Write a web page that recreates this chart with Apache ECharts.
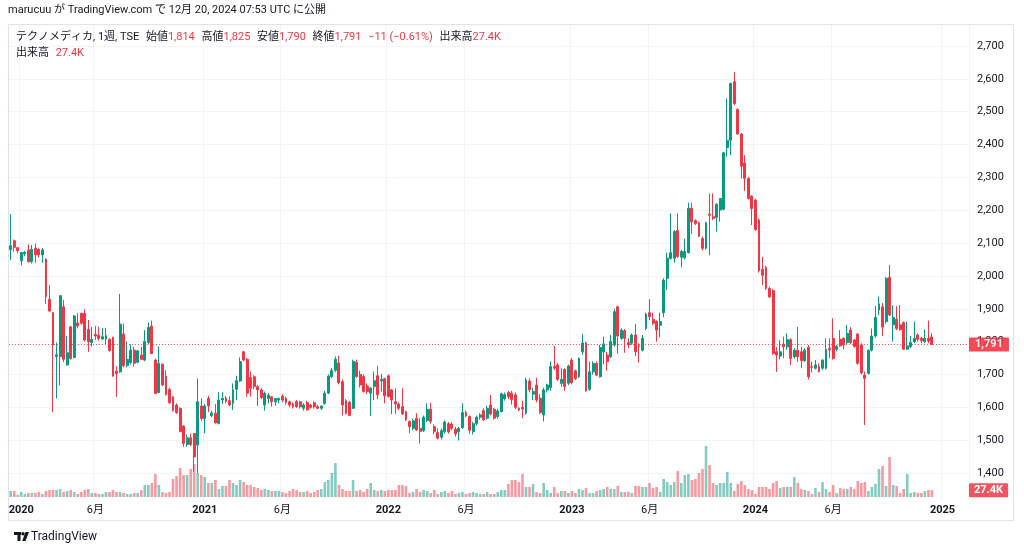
<!DOCTYPE html>
<html><head><meta charset="utf-8">
<script src="https://cdn.jsdelivr.net/npm/echarts@6/dist/echarts.min.js"></script>
<style>html,body{margin:0;padding:0;background:#fff}#c{width:1024px;height:553px}</style>
</head><body><div id="c"></div>
<script>
// ---- data (weekly candles, first week 2019-12-16) ----
const firstWeek = '2019-12-16';
const totalSlots = 272; // weeks on the time scale incl. empty future space
const priceTicks = [1400,1500,1600,1700,1800,1900,2000,2100,2200,2300,2400,2500,2600,2700];
const openP = [
2080,2107,2086,2046,2067,2079,2043,2084,2081,2064,
2051,1929,1888,1755,1754,1906,1729,1845,1752,1857,
1886,1886,1837,1797,1822,1819,1808,1808,1807,1813,
1710,1708,1823,1727,1736,1774,1737,1759,1744,1797,
1847,1744,1645,1731,1695,1654,1632,1607,1597,1543,
1487,1507,1520,1485,1604,1566,1627,1575,1582,1551,
1622,1628,1620,1612,1655,1680,1769,1746,1691,1693,
1663,1653,1607,1627,1632,1617,1622,1634,1627,1617,
1610,1617,1617,1597,1614,1607,1614,1602,1597,1612,
1643,1693,1713,1735,1678,1620,1615,1597,1737,1700,
1694,1665,1643,1663,1696,1680,1687,1696,1653,1617,
1610,1602,1587,1557,1536,1567,1536,1529,1560,1594,
1541,1523,1509,1526,1550,1549,1533,1526,1538,1584,
1572,1526,1550,1570,1590,1567,1607,1594,1572,1587,
1626,1645,1643,1638,1597,1600,1582,1680,1640,1668,
1628,1577,1653,1660,1724,1729,1673,1715,1673,1744,
1711,1693,1769,1796,1655,1708,1734,1693,1769,1759,
1754,1790,1906,1810,1833,1797,1795,1820,1787,1774,
1840,1888,1868,1861,1850,1888,1993,2053,2054,2138,
2057,2055,2071,2206,2168,2162,2114,2084,2188,2180,
2178,2201,2203,2391,2413,2591,2507,2432,2344,2297,
2243,2231,2170,2020,2026,1962,1955,1769,1756,1792,
1784,1806,1754,1774,1769,1742,1783,1724,1719,1724,
1719,1719,1780,1810,1777,1807,1810,1797,1835,1805,
1823,1790,1698,1703,1774,1817,1896,1906,1861,1996,
1851,1868,1851,1858,1777,1785,1800,1820,1810,1800,
1810,1814];
const highP = [
2188,2111,2088,2074,2076,2096,2094,2099,2083,2085,
2053,1972,1890,1797,1940,1927,1817,1847,1881,1886,
1888,1898,1866,1845,1847,1845,1842,1842,1810,1815,
1725,1945,1855,1800,1792,1784,1774,1784,1835,1858,
1864,1748,1785,1734,1713,1660,1634,1612,1600,1546,
1517,1520,1522,1688,1627,1610,1635,1590,1610,1646,
1646,1634,1633,1673,1696,1752,1772,1750,1709,1698,
1668,1658,1648,1643,1633,1628,1630,1640,1632,1620,
1615,1622,1620,1612,1620,1610,1618,1607,1605,1650,
1700,1720,1755,1757,1685,1625,1620,1745,1745,1712,
1700,1673,1662,1709,1726,1702,1690,1700,1656,1658,
1615,1658,1590,1560,1565,1582,1567,1575,1612,1614,
1548,1536,1535,1560,1555,1555,1540,1540,1612,1590,
1575,1556,1575,1582,1597,1605,1638,1598,1595,1645,
1645,1650,1650,1645,1600,1620,1690,1688,1660,1690,
1640,1660,1672,1740,1787,1735,1719,1719,1730,1750,
1715,1752,1823,1800,1739,1740,1740,1790,1815,1769,
1820,1900,1910,1840,1838,1810,1825,1854,1795,1820,
1888,1929,1888,1865,1888,1993,2071,2190,2140,2190,
2079,2114,2223,2223,2172,2165,2120,2165,2251,2251,
2221,2236,2378,2540,2588,2621,2510,2435,2368,2300,
2245,2235,2175,2058,2030,1968,1960,1784,1804,1815,
1825,1810,1780,1845,1785,1780,1790,1739,1744,1734,
1746,1810,1810,1871,1790,1835,1813,1851,1844,1808,
1825,1795,1709,1776,1840,1908,1937,1917,1996,2033,
1911,1908,1911,1861,1861,1817,1861,1825,1815,1837,
1864,1825];
const lowP = [
2048,2074,2069,2032,2060,2041,2038,2040,2056,2040,
1914,1891,1585,1627,1666,1738,1727,1745,1749,1840,
1852,1800,1769,1785,1805,1803,1805,1792,1769,1693,
1632,1705,1722,1722,1730,1724,1734,1744,1740,1792,
1762,1640,1643,1665,1636,1610,1587,1580,1524,1480,
1480,1482,1405,1400,1560,1521,1585,1570,1550,1548,
1610,1612,1603,1592,1622,1677,1740,1632,1632,1655,
1604,1625,1590,1612,1602,1605,1612,1615,1608,1600,
1596,1598,1596,1590,1590,1596,1596,1595,1592,1608,
1640,1690,1708,1670,1575,1578,1573,1595,1690,1660,
1645,1640,1574,1622,1625,1648,1612,1630,1579,1580,
1592,1577,1558,1521,1530,1528,1490,1525,1555,1550,
1518,1502,1502,1520,1520,1530,1511,1499,1534,1570,
1520,1517,1545,1562,1558,1563,1575,1563,1565,1585,
1620,1625,1608,1595,1588,1567,1578,1645,1622,1615,
1580,1557,1645,1650,1714,1680,1663,1650,1668,1670,
1683,1690,1760,1648,1650,1700,1695,1690,1731,1711,
1750,1785,1764,1805,1766,1780,1790,1756,1736,1770,
1835,1866,1850,1800,1813,1874,1957,2050,2040,2055,
2026,2050,2068,2128,2155,2118,2077,2080,2063,2170,
2135,2165,2200,2363,2368,2520,2430,2297,2259,2232,
2155,2137,2010,1972,1958,1933,1760,1708,1746,1749,
1775,1728,1748,1738,1719,1738,1685,1706,1715,1706,
1714,1715,1749,1745,1770,1785,1777,1793,1793,1782,
1730,1700,1546,1700,1770,1812,1880,1817,1855,1878,
1800,1835,1833,1775,1775,1780,1795,1800,1795,1795,
1795,1790];
const closeP = [
2092,2087,2077,2071,2072,2043,2081,2064,2064,2079,
1937,1893,1790,1760,1940,1746,1766,1749,1878,1848,
1856,1805,1800,1807,1817,1810,1815,1818,1773,1695,
1703,1853,1727,1746,1774,1734,1772,1746,1800,1843,
1764,1642,1734,1668,1639,1614,1590,1584,1526,1490,
1507,1487,1449,1617,1566,1604,1604,1583,1553,1622,
1627,1618,1607,1653,1681,1739,1744,1643,1658,1663,
1653,1630,1643,1637,1617,1627,1627,1622,1615,1607,
1602,1602,1602,1607,1592,1600,1602,1597,1604,1643,
1695,1712,1746,1675,1607,1582,1575,1740,1694,1668,
1648,1648,1658,1681,1638,1685,1635,1633,1622,1610,
1597,1580,1562,1541,1559,1531,1526,1570,1594,1557,
1526,1506,1529,1555,1525,1536,1519,1536,1584,1574,
1530,1550,1570,1577,1562,1597,1580,1567,1589,1641,
1638,1633,1623,1600,1592,1595,1683,1653,1648,1622,
1584,1653,1668,1724,1719,1685,1685,1663,1726,1675,
1688,1749,1796,1650,1708,1734,1698,1782,1793,1739,
1800,1891,1817,1835,1810,1790,1820,1769,1785,1810,
1884,1876,1856,1835,1861,1987,2054,2071,2135,2059,
2074,2074,2206,2165,2160,2121,2084,2162,2185,2175,
2218,2236,2375,2413,2586,2525,2432,2334,2297,2236,
2205,2141,2016,2002,1962,1936,1764,1759,1769,1784,
1806,1749,1774,1754,1742,1774,1693,1722,1729,1709,
1744,1777,1775,1749,1785,1787,1790,1825,1797,1785,
1734,1705,1688,1774,1817,1874,1915,1844,1993,1881,
1874,1840,1837,1777,1787,1797,1810,1807,1803,1810,
1802,1791];
const volumeK = [
24,24,8,20,12,16,16,16,20,12,
24,28,28,28,32,20,24,28,20,12,
20,28,32,16,16,12,12,20,20,28,
20,20,16,12,12,16,16,28,48,48,
56,92,48,20,16,20,72,84,116,88,
88,112,132,96,88,80,56,56,68,32,
44,44,68,56,48,68,60,48,48,40,
36,28,32,28,24,24,24,20,16,24,
32,28,20,20,24,16,20,28,32,60,
68,96,136,48,32,24,24,68,24,28,
20,32,56,28,24,28,24,28,28,28,
48,48,44,16,20,32,20,28,24,16,
28,12,20,24,16,24,12,16,20,12,
16,20,16,12,12,20,12,12,20,28,
28,52,68,68,60,92,40,40,52,20,
16,56,28,16,40,16,24,24,16,24,
16,32,28,36,16,16,24,28,32,40,
32,32,44,20,20,20,16,44,44,40,
40,56,36,40,20,72,60,48,60,104,
56,88,92,68,72,96,112,204,128,56,
48,56,56,100,56,24,52,64,48,32,
28,12,40,40,40,32,56,64,36,40,
40,40,80,56,32,28,24,12,36,20,
60,32,20,48,16,36,32,32,40,32,
64,56,60,24,40,52,112,124,44,160,
48,44,16,32,92,16,20,16,16,24,
28,27.4];

// ---- categories: weekly dates ----
const cats = [];
{
  const t0 = Date.parse(firstWeek + 'T00:00:00Z');
  for (let i = 0; i < totalSlots; i++) cats.push(new Date(t0 + i * 7 * 86400000).toISOString().slice(0, 10));
}
function isTick(idx) {
  if (idx <= 0) return false;
  const d = new Date(cats[idx] + 'T00:00:00Z'), p = new Date(cats[idx - 1] + 'T00:00:00Z');
  if (d.getUTCFullYear() !== p.getUTCFullYear()) return true;
  return d.getUTCMonth() === 5 && p.getUTCMonth() === 4;
}
const fmt = v => Math.round(v).toLocaleString('en-US');

const UP = '#089981', DOWN = '#f23645';
const UPV = 'rgba(8,153,129,0.5)', DOWNV = 'rgba(242,54,69,0.5)';
const FONT = 'Roboto, "Noto Sans CJK JP", sans-serif';

const n = closeP.length;
const lastO = openP[n - 1], lastH = highP[n - 1], lastL = lowP[n - 1], lastC = closeP[n - 1];
const chg = lastC - closeP[n - 2];
const pct = chg / closeP[n - 2] * 100;
const lastVol = volumeK[n - 1];
const valColor = lastC >= lastO ? UP : DOWN;

const candleData = openP.map((o, i) => [o, closeP[i], lowP[i], highP[i]]);
const volData = volumeK.map((v, i) => ({ value: v, itemStyle: { color: closeP[i] >= openP[i] ? UPV : DOWNV } }));

// split-line colours: hide the lines at min (1300) and max (2800)
const hColors = ['rgba(0,0,0,0)'];
for (let k = 0; k < priceTicks.length; k++) hColors.push('#f0f3fa');
hColors.push('rgba(0,0,0,0)');

const L = 8.9, R = 55;
const chart = echarts.init(document.getElementById('c'));
chart.setOption({
  animation: false,
  backgroundColor: '#ffffff',
  textStyle: { fontFamily: FONT },
  grid: [
    { left: L, right: R, top: 13.15, bottom: 47.15 },   // price
    { left: L, right: R, bottom: 56, height: 100 },      // volume
    { left: L, right: R, top: 24, bottom: 53 }           // vertical grid lines
  ],
  xAxis: [
    { type: 'category', gridIndex: 0, data: cats, boundaryGap: true, axisLine: { show: false }, axisTick: { show: false }, axisLabel: { show: false }, splitLine: { show: false } },
    { type: 'category', gridIndex: 1, data: cats, boundaryGap: true, axisLine: { show: false }, axisTick: { show: false },
      axisLabel: {
        show: true, interval: (i) => isTick(i), margin: 8, fontSize: 11, color: '#131722', fontFamily: FONT,
        formatter: (v) => { const d = new Date(v + 'T00:00:00Z'); return d.getUTCMonth() === 0 ? '{y|' + d.getUTCFullYear() + '}' : '{m|' + (d.getUTCMonth() + 1) + '月}'; },
        rich: { y: { fontWeight: 'bold', fontSize: 11, color: '#131722', fontFamily: FONT }, m: { fontSize: 11, color: '#131722', fontFamily: FONT } }
      },
      splitLine: { show: false } },
    { type: 'category', gridIndex: 2, data: cats, boundaryGap: true, axisLine: { show: false }, axisTick: { show: false, alignWithLabel: true }, axisLabel: { show: false },
      splitLine: { show: true, interval: (i) => isTick(i), lineStyle: { color: '#f0f3fa', width: 1 } } }
  ],
  yAxis: [
    { type: 'value', gridIndex: 0, position: 'right', min: 1300, max: 2800, interval: 100,
      axisLine: { show: false }, axisTick: { show: false },
      axisLabel: { show: true, margin: 8, fontSize: 11, color: '#131722', fontFamily: FONT, align: 'left', showMinLabel: false, showMaxLabel: false, formatter: fmt },
      splitLine: { show: true, lineStyle: { color: hColors, width: 1 } } },
    { type: 'value', gridIndex: 1, min: 0, max: 400, show: false, splitLine: { show: false } },
    { type: 'value', gridIndex: 2, min: 0, max: 1, show: false, splitLine: { show: false } }
  ],
  series: [
    { type: 'bar', xAxisIndex: 1, yAxisIndex: 1, data: volData, barWidth: 2.6, z: 1,
      markLine: { silent: true, symbol: 'none', animation: false,
        lineStyle: { color: 'rgba(0,0,0,0)', width: 1 },
        label: { show: true, position: 'end', distance: 0, formatter: lastVol.toFixed(1) + 'K', color: '#fff', backgroundColor: '#f25561', padding: [2, 5, 1, 5], fontSize: 11, fontWeight: 'bold', fontFamily: FONT, borderRadius: 1 },
        data: [{ yAxis: lastVol }] } },
    { type: 'candlestick', xAxisIndex: 0, yAxisIndex: 0, data: candleData, barWidth: 2.4, z: 3,
      itemStyle: { color: UP, color0: DOWN, borderColor: UP, borderColor0: DOWN, borderWidth: 1 },
      markLine: { silent: true, symbol: 'none', animation: false,
        lineStyle: { color: DOWN, type: [1, 2], width: 1, opacity: 0.9 },
        label: { show: true, position: 'end', distance: 0, formatter: fmt(lastC), color: '#fff', backgroundColor: DOWN, padding: [2, 6, 1, 6], fontSize: 11, fontWeight: 'bold', fontFamily: FONT, borderRadius: 1 },
        data: [{ yAxis: lastC }] } }
  ],
  graphic: [
    { type: 'rect', z: 50, shape: { x: 0, y: 0, width: 1024, height: 23.5 }, style: { fill: '#fff' } },
    { type: 'rect', z: 51, shape: { x: 8.5, y: 24.5, width: 1005, height: 496 }, style: { fill: 'none', stroke: '#e0e3eb', lineWidth: 1 } },
    { type: 'text', z: 60, left: 8, top: 5, style: { text: 'marucuu が TradingView.com で 12月 20, 2024 07:53 UTC に公開', fontSize: 11, fill: '#131722', fontFamily: FONT } },
    { type: 'text', z: 60, left: 16, top: 31, style: {
        text: '{k|テクノメディカ, 1週, TSE}  {k|始値}{r|' + fmt(lastO) + '}  {k|高値}{r|' + fmt(lastH) + '}  {k|安値}{r|' + fmt(lastL) + '}  {k|終値}{r|' + fmt(lastC) + '}  {r|' + (chg < 0 ? '−' : '+') + Math.abs(chg) + ' (' + (chg < 0 ? '−' : '+') + Math.abs(pct).toFixed(2) + '%)}  {k|出来高}{r|' + lastVol.toFixed(1) + 'K}',
        rich: { k: { fontSize: 11, fill: '#131722', fontFamily: FONT }, r: { fontSize: 11, fill: valColor, fontFamily: FONT } } } },
    { type: 'text', z: 60, left: 16, top: 47, style: {
        text: '{k|出来高}  {r|' + lastVol.toFixed(1) + 'K}',
        rich: { k: { fontSize: 11, fill: '#131722', fontFamily: FONT }, r: { fontSize: 11, fill: valColor, fontFamily: FONT } } } },
    { type: 'group', z: 60, left: 14, top: 532, children: [
        { type: 'rect', shape: { x: 0, y: 0, width: 7, height: 3 }, style: { fill: '#131722' } },
        { type: 'rect', shape: { x: 3.5, y: 0, width: 3, height: 9 }, style: { fill: '#131722' } },
        { type: 'circle', shape: { cx: 9, cy: 1.8, r: 1.7 }, style: { fill: '#131722' } },
        { type: 'polygon', shape: { points: [[11.5, 0], [15, 0], [11.5, 9], [8.2, 9]] }, style: { fill: '#131722' } }
    ] },
    { type: 'text', z: 60, left: 31, top: 531, style: { text: 'TradingView', fontSize: 12, fill: '#131722', fontFamily: FONT } }
  ]
});
</script></body></html>
